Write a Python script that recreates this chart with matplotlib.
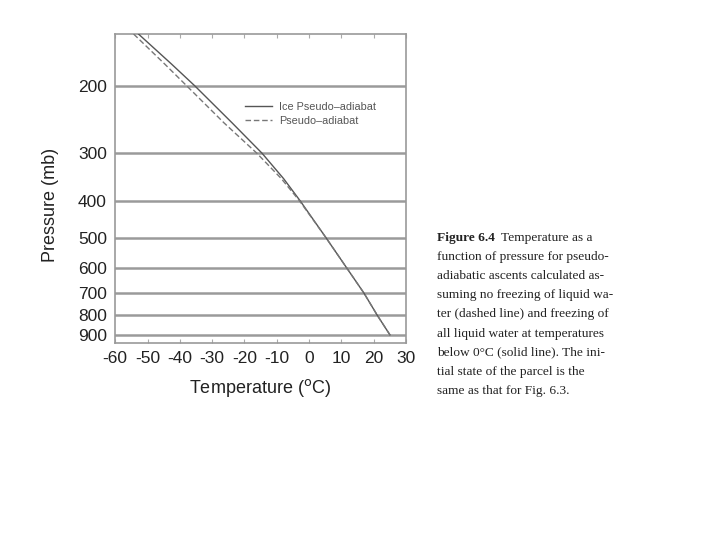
import matplotlib
matplotlib.use("Agg")
import matplotlib.pyplot as plt
from matplotlib.ticker import FixedLocator, NullLocator

# pressure levels (mb) and temperatures (deg C)
p_ice = [146, 175, 200, 250, 300, 350, 400, 500, 600, 700, 800, 900]
t_ice = [-52.8, -42.6, -35.3, -23.8, -14.6, -7.9, -2.8, 5.2, 11.6, 17.0, 21.1, 25.0]

p_liq = [146, 175, 200, 250, 300, 350, 400, 500, 600, 700, 800, 900]
t_liq = [-54.3, -44.7, -37.8, -26.3, -16.2, -8.6, -3.0, 5.2, 11.6, 17.0, 21.1, 25.0]

p_ticks = [200, 300, 400, 500, 600, 700, 800, 900]
t_ticks = [-60, -50, -40, -30, -20, -10, 0, 10, 20, 30]

caption_head = "Figure 6.4"
caption_first = "Temperature as a"
caption = [
    "function of pressure for pseudo-",
    "adiabatic ascents calculated as-",
    "suming no freezing of liquid wa-",
    "ter (dashed line) and freezing of",
    "all liquid water at temperatures",
    "below 0\u00b0C (solid line). The ini-",
    "tial state of the parcel is the",
    "same as that for Fig. 6.3.",
]

plt.rcParams['font.family'] = ['Liberation Sans', 'DejaVu Sans']
plt.rcParams['axes.unicode_minus'] = False

fig = plt.figure(figsize=(7.2, 5.4), dpi=100)
ax = fig.add_axes([0.160, 0.365, 0.404, 0.572])

for p in p_ticks:
    ax.axhline(p, color='#9a9a9a', lw=1.8, zorder=1)

ax.plot(t_ice, p_ice, color='#555555', lw=1.0, label='Ice Pseudo\u2013adiabat', zorder=3)
ax.plot(t_liq, p_liq, color='#777777', lw=1.0, ls=(0, (4, 2)), label='Pseudo\u2013adiabat', zorder=3)

ax.set_yscale('log')
ax.set_ylim(945, 146)
ax.set_xlim(-60, 30)
ax.yaxis.set_major_locator(FixedLocator(p_ticks))
ax.yaxis.set_minor_locator(NullLocator())
ax.set_yticklabels([str(p) for p in p_ticks])
ax.set_xticks(t_ticks)

ax.tick_params(axis='both', labelsize=12.5, colors='#222222', length=0, pad=6)
ax.tick_params(axis='x', direction='in', length=3, top=True, color='#aaaaaa')
for s in ax.spines.values():
    s.set_color('#999999')
    s.set_linewidth(1.2)

ax.set_xlabel('Temperature ($^{\\rm o}$C)', fontsize=13, color='#222222', labelpad=8)
ax.set_ylabel('Pressure (mb)', fontsize=13, color='#222222')
ax.yaxis.set_label_coords(-0.192, 0.447)

leg = ax.legend(loc='upper right', bbox_to_anchor=(0.93, 0.812), frameon=False,
                fontsize=7.8, handlelength=2.5, handletextpad=0.65, labelspacing=0.35)
for t in leg.get_texts():
    t.set_color('#555555')

# caption on the right
x0, y0, dy = 437 / 720, 1 - 238 / 540, 19.1 / 540
head = fig.text(x0, y0, caption_head, fontsize=9.6, fontweight='bold',
                family='Liberation Serif', va='center', color='#222222')
r = fig.canvas.get_renderer()
hw = head.get_window_extent(r).width / fig.bbox.width
fig.text(x0 + hw + 6 / 720, y0, caption_first, fontsize=9.6,
         family='Liberation Serif', va='center', color='#222222')
for i, line in enumerate(caption):
    fig.text(x0, y0 - (i + 1) * dy, line, fontsize=9.6,
             family='Liberation Serif', va='center', color='#222222')

fig.savefig('out.png', dpi=100)
